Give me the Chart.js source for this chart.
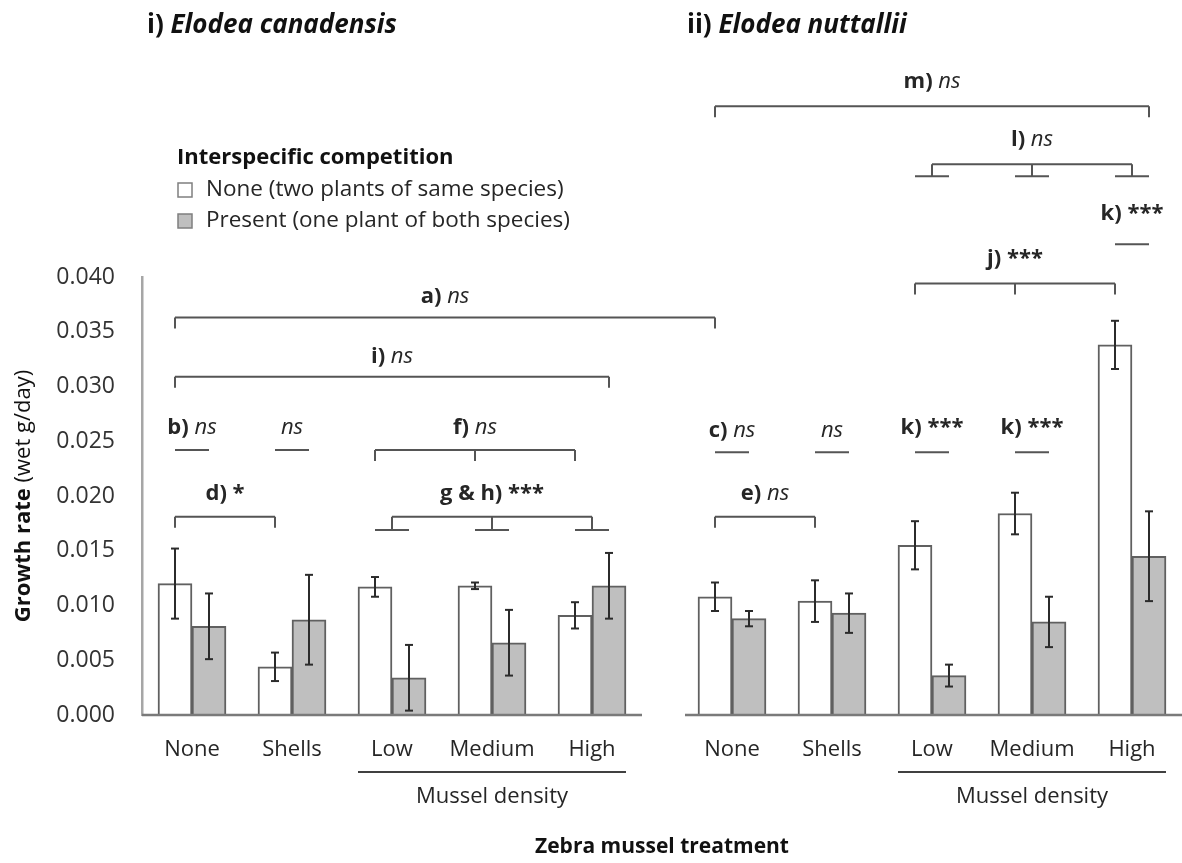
<!DOCTYPE html>
<html>
<head>
<meta charset="utf-8">
<script src="https://cdn.jsdelivr.net/npm/chart.js@4.4.1/dist/chart.umd.min.js"></script>
<style>
  html, body { margin: 0; padding: 0; background: #fff; }
</style>
</head>
<body>
<canvas id="growthChart" width="1182" height="863"></canvas>
<script>
// Zebra mussel treatment categories (E. canadensis then E. nuttallii)
const categories = ['None', 'Shells', 'Low', 'Medium', 'High', 'None', 'Shells', 'Low', 'Medium', 'High'];
// where each category sits on the x scale (gap between the two species)
const categoryX = [0.5, 1.5, 2.5, 3.5, 4.5, 5.9, 6.9, 7.9, 8.9, 9.9];

// growth rate (wet g/day), no interspecific competition
const noneMeans = [0.0120, 0.0044, 0.0117, 0.0118, 0.0091, 0.0108, 0.0104, 0.0155, 0.0184, 0.0338];
const noneErr   = [0.0032, 0.0013, 0.0009, 0.0003, 0.0012, 0.0013, 0.0019, 0.0022, 0.0019, 0.0022];
// growth rate, interspecific competition present
const presentMeans = [0.0081, 0.0087, 0.0034, 0.0066, 0.0118, 0.0088, 0.0093, 0.0036, 0.0085, 0.0145];
const presentErr   = [0.0030, 0.0041, 0.0030, 0.0030, 0.0030, 0.0007, 0.0018, 0.0010, 0.0023, 0.0041];

const panelTitles = [['i)', 'Elodea canadensis'], ['ii)', 'Elodea nuttallii']];

// significance annotations: bar refs are [category, series], levels in growth-rate units
const annotations = [
  { type: 'bracket', ends: [[0, 0], [5, 0]], level: 0.0363, text: ['a)', 'ns'], textLevel: 0.0382 },
  { type: 'bracket', ends: [[0, 0], [4, 1]], level: 0.0309, text: ['i)', 'ns'], textLevel: 0.0327 },
  { type: 'pair', cat: 0, level: 0.0242, text: ['b)', 'ns'], textLevel: 0.0262 },
  { type: 'pair', cat: 1, level: 0.0242, text: ['', 'ns'], textLevel: 0.0262 },
  { type: 'bracket', ends: [[0, 0], [1, 0]], level: 0.0181, text: ['d)', '*'], textLevel: 0.0202 },
  { type: 'bracket', ends: [[2, 0], [3, 0], [4, 0]], level: 0.0242, text: ['f)', 'ns'], textLevel: 0.0262 },
  { type: 'tier', cats: [2, 3, 4], level: 0.0181, low: 0.0169, text: ['g & h)', '***'], textLevel: 0.0202 },
  { type: 'pair', cat: 5, level: 0.0240, text: ['c)', 'ns'], textLevel: 0.0260 },
  { type: 'pair', cat: 6, level: 0.0240, text: ['', 'ns'], textLevel: 0.0260 },
  { type: 'pair', cat: 7, level: 0.0240, text: ['k)', '***'], textLevel: 0.0262 },
  { type: 'pair', cat: 8, level: 0.0240, text: ['k)', '***'], textLevel: 0.0262 },
  { type: 'bracket', ends: [[5, 0], [6, 0]], level: 0.0181, text: ['e)', 'ns'], textLevel: 0.0202 },
  { type: 'bracket', ends: [[7, 0], [8, 0], [9, 0]], level: 0.0394, text: ['j)', '***'], textLevel: 0.0417 },
  { type: 'pair', cat: 9, level: 0.0430, text: ['k)', '***'], textLevel: 0.0458 },
  { type: 'tier', cats: [7, 8, 9], level: 0.0503, low: 0.0492, text: ['l)', 'ns'], textLevel: 0.0525 },
  { type: 'bracket', ends: [[5, 0], [9, 1]], level: 0.0556, text: ['m)', 'ns'], textLevel: 0.0578 }
];

const FAMILY = '"Open Sans", sans-serif';
const TEXT = '#262626';
const LINE = '#555555';

function drawRuns(ctx, runs, x, y, align) {
  let total = 0;
  runs.forEach(r => { ctx.font = r.font; r.w = ctx.measureText(r.text).width; total += r.w; });
  let cx = align === 'center' ? x - total / 2 : x;
  ctx.textAlign = 'left';
  ctx.textBaseline = 'middle';
  runs.forEach(r => { ctx.font = r.font; ctx.fillText(r.text, cx, y); cx += r.w; });
}

function line(ctx, x1, y1, x2, y2) {
  ctx.beginPath();
  ctx.moveTo(x1, y1);
  ctx.lineTo(x2, y2);
  ctx.stroke();
}

const extrasPlugin = {
  id: 'extras',
  afterDatasetsDraw(chart) {
    const ctx = chart.ctx;
    const y = chart.scales.y;
    // error bars
    const sets = [[noneMeans, noneErr], [presentMeans, presentErr]];
    ctx.save();
    ctx.strokeStyle = '#2b2b2b';
    ctx.lineWidth = 2;
    sets.forEach(([means, errs], s) => {
      chart.getDatasetMeta(s).data.forEach((bar, i) => {
        const top = y.getPixelForValue(means[i] + errs[i]);
        const bot = y.getPixelForValue(Math.max(0, means[i] - errs[i]));
        line(ctx, bar.x, top, bar.x, bot);
        line(ctx, bar.x - 4, top, bar.x + 4, top);
        line(ctx, bar.x - 4, bot, bar.x + 4, bot);
      });
    });
    ctx.restore();
  },
  afterDraw(chart) {
    const ctx = chart.ctx;
    const xs = chart.scales.x;
    const ys = chart.scales.y;
    const area = chart.chartArea;
    const barX = (cat, s) => chart.getDatasetMeta(s).data[cat].x;
    const catX = cat => xs.getPixelForValue(categoryX[cat]);

    ctx.save();
    // baselines of the two panels
    ctx.strokeStyle = '#7a7a7a';
    ctx.lineWidth = 2.5;
    line(ctx, xs.getPixelForValue(0), area.bottom, xs.getPixelForValue(5), area.bottom);
    line(ctx, xs.getPixelForValue(5.43), area.bottom, xs.getPixelForValue(10.4), area.bottom);

    // panel titles
    ctx.fillStyle = '#111';
    [0, 5].forEach((first, p) => {
      const left = barX(first, 0) - 28;
      drawRuns(ctx, [
        { text: panelTitles[p][0] + ' ', font: 'bold 26px ' + FAMILY },
        { text: panelTitles[p][1], font: 'italic bold 26px ' + FAMILY }
      ], left, 26, 'left');
    });

    // significance annotations
    ctx.strokeStyle = LINE;
    ctx.lineWidth = 2;
    ctx.fillStyle = TEXT;
    const drop = 11;
    annotations.forEach(a => {
      let cx;
      const ly = ys.getPixelForValue(a.level);
      if (a.type === 'bracket') {
        const px = a.ends.map(([c, s]) => barX(c, s));
        line(ctx, px[0], ly, px[px.length - 1], ly);
        px.forEach(p => line(ctx, p, ly, p, ly + drop));
        cx = (px[0] + px[px.length - 1]) / 2;
      } else if (a.type === 'pair') {
        line(ctx, barX(a.cat, 0), ly, barX(a.cat, 1), ly);
        cx = catX(a.cat);
      } else {
        const low = ys.getPixelForValue(a.low);
        const px = a.cats.map(catX);
        line(ctx, px[0], ly, px[px.length - 1], ly);
        a.cats.forEach((c, k) => {
          line(ctx, px[k], ly, px[k], low);
          line(ctx, barX(c, 0), low, barX(c, 1), low);
        });
        cx = (px[0] + px[px.length - 1]) / 2;
      }
      const runs = [];
      if (a.text[0]) runs.push({ text: a.text[0] + ' ', font: 'bold 22px ' + FAMILY });
      runs.push({ text: a.text[1], font: (a.text[1] === 'ns' ? 'italic 22px ' : 'bold 22px ') + FAMILY });
      drawRuns(ctx, runs, cx, ys.getPixelForValue(a.textLevel), 'center');
    });

    // mussel density groupings under the tick labels
    [[2, 3, 4], [7, 8, 9]].forEach(([lo, mid, hi]) => {
      const b0 = chart.getDatasetMeta(0).data[lo];
      const b1 = chart.getDatasetMeta(1).data[hi];
      ctx.strokeStyle = '#404040';
      ctx.lineWidth = 2;
      line(ctx, b0.x - b0.width / 2, 772, b1.x + b1.width / 2, 772);
      ctx.fillStyle = TEXT;
      drawRuns(ctx, [{ text: 'Mussel density', font: '22px ' + FAMILY }], catX(mid), 797, 'center');
    });

    // y axis title, bold + regular parts
    ctx.save();
    ctx.translate(24, (area.top + area.bottom) / 2);
    ctx.rotate(-Math.PI / 2);
    ctx.fillStyle = '#111';
    drawRuns(ctx, [
      { text: 'Growth rate ', font: 'bold 22px ' + FAMILY },
      { text: '(wet g/day)', font: '22px ' + FAMILY }
    ], 0, 0, 'center');
    ctx.restore();

    // legend
    ctx.fillStyle = '#111';
    drawRuns(ctx, [{ text: 'Interspecific competition', font: 'bold 22px ' + FAMILY }], 177, 158, 'left');
    chart.data.datasets.forEach((ds, i) => {
      const cy = 190 + i * 31;
      ctx.fillStyle = ds.backgroundColor;
      ctx.strokeStyle = '#7f7f7f';
      ctx.lineWidth = 1.5;
      ctx.fillRect(178, cy - 7, 14, 14);
      ctx.strokeRect(178, cy - 7, 14, 14);
      ctx.fillStyle = TEXT;
      drawRuns(ctx, [{ text: ds.label, font: '22.5px ' + FAMILY }], 206, cy, 'left');
    });
    ctx.restore();
  }
};

const ctx = document.getElementById('growthChart').getContext('2d');
new Chart(ctx, {
  type: 'bar',
  data: {
    datasets: [
      {
        label: 'None (two plants of same species)',
        data: categoryX.map((x, i) => ({ x: x, y: noneMeans[i] })),
        backgroundColor: '#ffffff',
        borderColor: '#606060',
        borderWidth: 2
      },
      {
        label: 'Present (one plant of both species)',
        data: categoryX.map((x, i) => ({ x: x, y: presentMeans[i] })),
        backgroundColor: '#bfbfbf',
        borderColor: '#606060',
        borderWidth: 2
      }
    ]
  },
  options: {
    responsive: false,
    animation: false,
    devicePixelRatio: 1,
    barThickness: 34,
    layout: { padding: { top: 277, left: 0, right: 0, bottom: 0 } },
    plugins: {
      legend: { display: false },
      tooltip: { enabled: false }
    },
    scales: {
      x: {
        type: 'linear',
        min: 0,
        max: 10.4,
        offset: false,
        grid: { display: false, drawTicks: false },
        border: { display: false },
        afterBuildTicks: scale => { scale.ticks = categoryX.map(v => ({ value: v })); },
        afterFit: scale => { scale.height = 148; },
        ticks: {
          autoSkip: false,
          maxRotation: 0,
          padding: 22,
          color: TEXT,
          font: { family: FAMILY, size: 22 },
          callback: (v, i) => categories[i]
        },
        title: {
          display: true,
          text: 'Zebra mussel treatment',
          color: '#111',
          font: { family: FAMILY, size: 21, weight: 'bold' },
          padding: { top: 0, bottom: 3 }
        }
      },
      y: {
        min: 0,
        max: 0.04,
        grid: { display: false, drawTicks: false },
        border: { color: '#a6a6a6', width: 2.5 },
        afterFit: scale => { scale.width = 142; },
        ticks: {
          stepSize: 0.005,
          padding: 27,
          color: '#333',
          font: { family: FAMILY, size: 23 },
          callback: v => v.toFixed(3)
        }
      }
    }
  },
  plugins: [extrasPlugin]
});
</script>
</body>
</html>
